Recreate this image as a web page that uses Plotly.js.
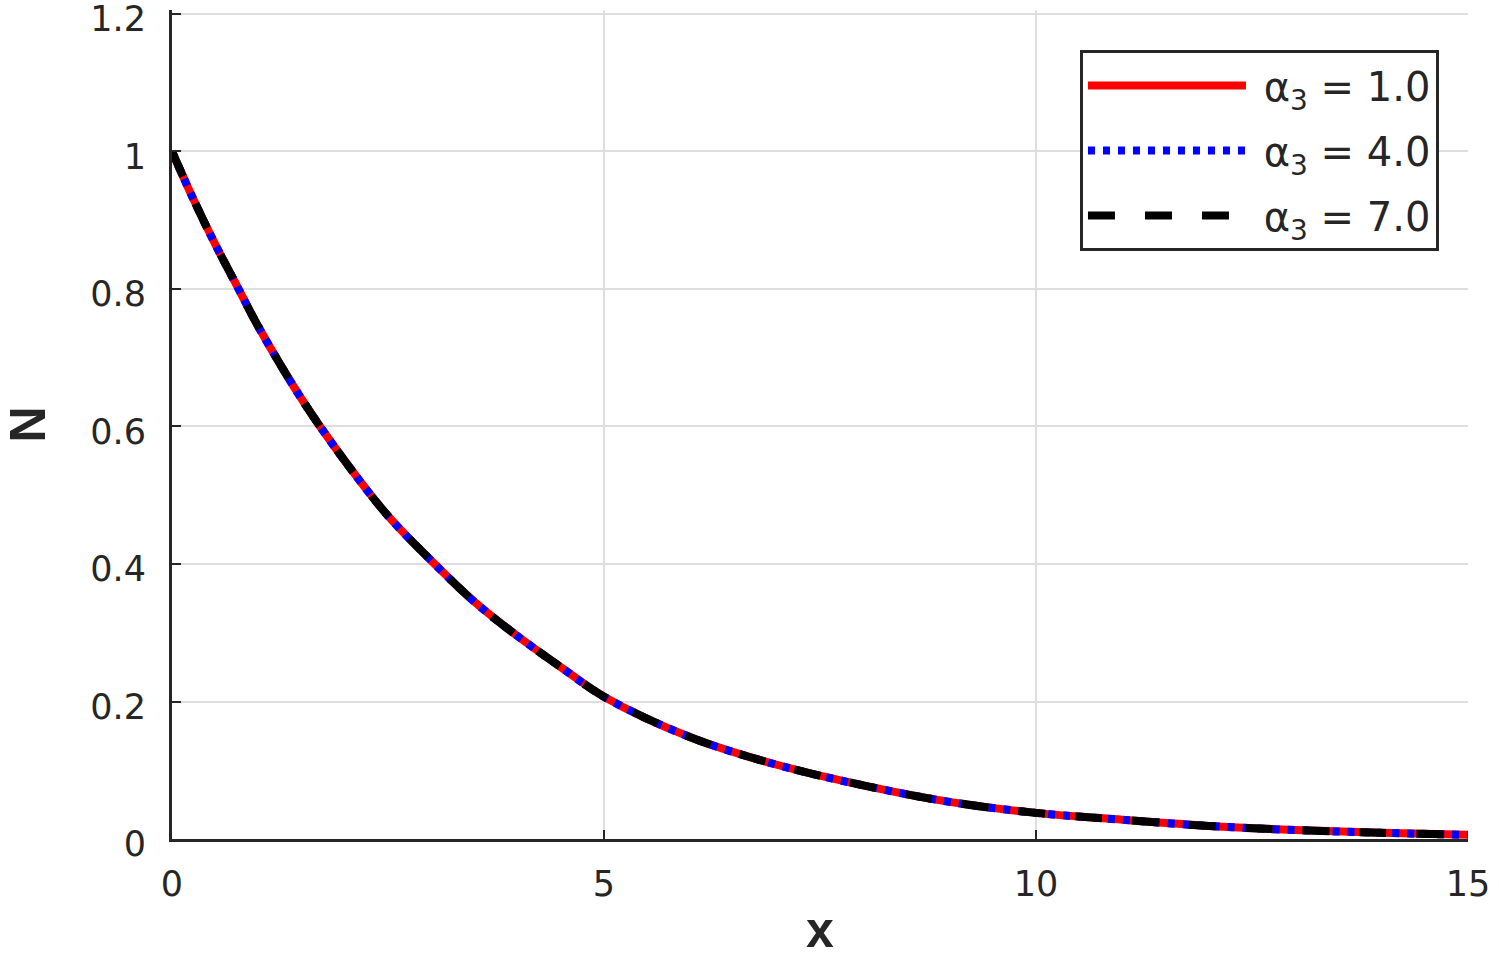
<!DOCTYPE html>
<html>
<head>
<meta charset="utf-8">
<script src="https://cdn.plot.ly/plotly-3.0.1.min.js"></script>
<style>
  html, body { margin: 0; padding: 0; background: #fff; }
  #plot { width: 1499px; height: 958px; }
</style>
</head>
<body>
<div id="plot"></div>
<script>
// values (all three curves sit on top of each other)
const xVals = [0, 0.25, 0.5, 0.75, 1, 1.5, 2, 2.5, 3, 3.5, 4, 4.5, 5, 6, 7, 8, 9, 10, 11, 12, 13, 14, 15];
const nAlpha1 = [1.0, 0.93, 0.865, 0.805, 0.745, 0.64, 0.55, 0.47, 0.405, 0.345, 0.295, 0.25, 0.207, 0.148, 0.108, 0.078, 0.054, 0.038, 0.028, 0.019, 0.013, 0.009, 0.006];
const nAlpha4 = [1.0, 0.93, 0.865, 0.805, 0.745, 0.64, 0.55, 0.47, 0.405, 0.345, 0.295, 0.25, 0.207, 0.148, 0.108, 0.078, 0.054, 0.038, 0.028, 0.019, 0.013, 0.009, 0.006];
const nAlpha7 = [1.0, 0.93, 0.865, 0.805, 0.745, 0.64, 0.55, 0.47, 0.405, 0.345, 0.295, 0.25, 0.207, 0.148, 0.108, 0.078, 0.054, 0.038, 0.028, 0.019, 0.013, 0.009, 0.006];
const seriesNames = ['\u00a0\u03b1<sub>3</sub> = 1.0', '\u00a0\u03b1<sub>3</sub> = 4.0', '\u00a0\u03b1<sub>3</sub> = 7.0'];
const xTicks = [0, 5, 10, 15];
const yTicks = [0, 0.2, 0.4, 0.6, 0.8, 1, 1.2];

const axisColor = '#262626';
const tickFont = {family: 'DejaVu Sans, sans-serif', size: 35, color: axisColor};

const trace_a1 = {x: xVals, y: nAlpha1, type: 'scatter', mode: 'lines',
                  line: {color: '#ff0000', width: 8, shape: 'spline'},
                  name: seriesNames[0], legendgroup: 'a1'};
const trace_a4 = {x: xVals, y: nAlpha4, type: 'scatter', mode: 'lines',
                  line: {color: '#0000ff', width: 8, dash: '7px,8px', shape: 'spline'},
                  name: seriesNames[1], legendgroup: 'a4'};
const trace_a7 = {x: xVals, y: nAlpha7, type: 'scatter', mode: 'lines',
                  line: {color: '#000000', width: 8, dash: '27px,30px', shape: 'spline'},
                  name: seriesNames[2], legendgroup: 'a7'};

// y range runs a bit past 1.2 so the top grid line is kept; 1.2 still lands at y=14
const layout = {
    width: 1499, height: 958,
    margin: {l: 172, r: 31, t: 10, b: 119},
    paper_bgcolor: '#fff', plot_bgcolor: '#fff',
    showlegend: true,
    legend: {x: 0.9776, y: 0.9516, xanchor: 'right', yanchor: 'top',
             bgcolor: '#fff', bordercolor: axisColor, borderwidth: 3,
             font: {family: 'DejaVu Sans, sans-serif', size: 40, color: axisColor},
             itemwidth: 158, tracegroupgap: 10},
    xaxis: {range: [0, 15], tickvals: xTicks, ticks: 'inside', ticklen: 9, tickwidth: 2,
            tickcolor: axisColor, showline: true, linecolor: axisColor, linewidth: 3,
            mirror: false, showgrid: true, gridcolor: '#dedede', gridwidth: 2,
            zeroline: false, tickfont: tickFont, ticklabelstandoff: 12,
            ticklabeloverflow: 'allow',
            title: {text: '<b>x</b>', standoff: 34,
                    font: {family: 'Liberation Sans, sans-serif', size: 50, color: axisColor}}},
    yaxis: {range: [0, 1.2058], tickvals: yTicks, ticks: 'inside', ticklen: 9, tickwidth: 2,
            tickcolor: axisColor, showline: true, linecolor: axisColor, linewidth: 3,
            mirror: false, showgrid: true, gridcolor: '#dedede', gridwidth: 2,
            zeroline: false, tickfont: tickFont, ticklabelstandoff: 16, ticklabelshift: 5,
            ticklabeloverflow: 'allow',
            title: {text: '<b>N</b>', standoff: 32,
                    font: {family: 'Liberation Sans, sans-serif', size: 50, color: axisColor}}}
};

Plotly.newPlot('plot', [trace_a1, trace_a4, trace_a7], layout, {staticPlot: true});
</script>
</body>
</html>
